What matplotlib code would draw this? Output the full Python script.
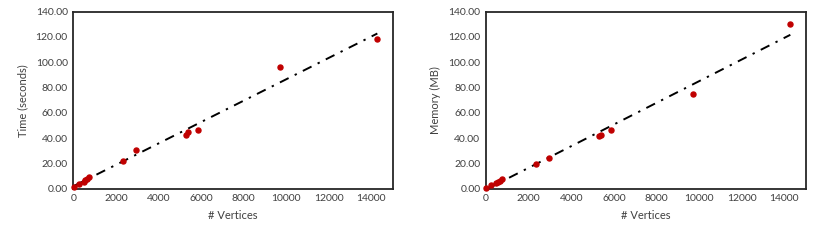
import numpy as np
import matplotlib
matplotlib.use("Agg")
import matplotlib.pyplot as plt
from matplotlib.ticker import FormatStrFormatter

vertices = [10, 250, 480, 560, 650, 730, 2330, 2960, 5280, 5380, 5870, 9700, 14280]
time_s = [1.0, 4.0, 5.5, 6.8, 8.0, 9.3, 21.9, 30.9, 42.2, 44.6, 46.4, 96.5, 118.2]
memory_mb = [0.8, 3.3, 4.5, 5.5, 6.4, 7.3, 19.5, 24.5, 41.7, 42.2, 46.4, 74.9, 130.3]

x_ticks = [0, 2000, 4000, 6000, 8000, 10000, 12000, 14000]
y_ticks = [0, 20, 40, 60, 80, 100, 120, 140]

plt.rcParams['font.family'] = ['Lato', 'DejaVu Sans']

fig = plt.figure(figsize=(8.3, 2.4), dpi=100)
axes = [fig.add_axes([0.0883, 0.2137, 0.3848, 0.7375]),
        fig.add_axes([0.5855, 0.2137, 0.3852, 0.7375])]
series = [(time_s, "Time (seconds)"), (memory_mb, "Memory (MB)")]

red = "#C00000"
for ax, (ys, ylabel) in zip(axes, series):
    x = np.array(vertices, dtype=float)
    y = np.array(ys, dtype=float)
    k, b = np.polyfit(x, y, 1)
    xs = np.array([x.min(), x.max()])
    ax.plot(xs, k * xs + b, color="black", lw=1.4, dashes=(5, 3.5, 1.2, 3.5), zorder=2)
    ax.plot(x, y, "o", color=red, ms=3.6, zorder=3, clip_on=False)
    ax.set_xlim(0, 15000)
    ax.set_ylim(0, 140)
    ax.set_xticks(x_ticks)
    ax.set_yticks(y_ticks)
    ax.yaxis.set_major_formatter(FormatStrFormatter("%.2f"))
    ax.tick_params(length=0, labelsize=7.5, colors="#404040", pad=4)
    for s in ax.spines.values():
        s.set_linewidth(1.3)
        s.set_color("#262626")
    ax.set_xlabel("# Vertices", fontsize=8, color="#404040", labelpad=5)
    ax.set_ylabel(ylabel, fontsize=8, color="#404040", labelpad=5)

fig.savefig("out.png", dpi=100)
